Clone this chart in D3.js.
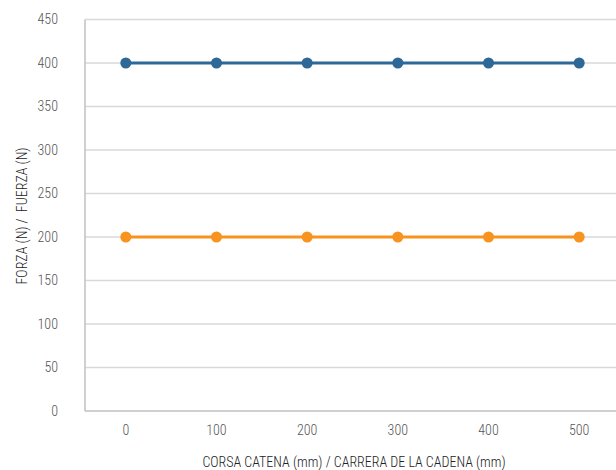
<!DOCTYPE html>
<html><head><meta charset="utf-8">
<script src="https://cdn.jsdelivr.net/npm/d3@7"></script>
<style>body{margin:0;background:#fff}svg{display:block}text{font-family:"Liberation Sans Narrow","Roboto Condensed",Roboto,sans-serif;font-weight:300}</style>
</head><body><svg id="c" width="616" height="470"></svg>
<script>
const categories = ["0","100","200","300","400","500"];
const seriesBlue = [400,400,400,400,400,400];
const seriesOrange = [200,200,200,200,200,200];
const yTicks = [0,50,100,150,200,250,300,350,400,450];

const svg = d3.select("#c");
const x = d3.scalePoint().domain(categories).range([85,620]).padding(0.45);
const y = d3.scaleLinear().domain([0,450]).range([411,19.5]);

svg.append("g").selectAll("line").data(yTicks.filter(d=>d>0)).join("line")
  .attr("x1",85).attr("x2",616).attr("y1",d=>y(d)).attr("y2",d=>y(d))
  .attr("stroke","#d9d9d9").attr("stroke-width",1.5);

svg.append("line").attr("x1",85).attr("x2",85).attr("y1",y(450)).attr("y2",y(0)).attr("stroke","#c0c0c0").attr("stroke-width",1.5);
svg.append("line").attr("x1",85).attr("x2",616).attr("y1",y(0)).attr("y2",y(0)).attr("stroke","#c0c0c0").attr("stroke-width",1.5);

svg.append("g").selectAll("text").data(yTicks).join("text")
  .attr("x",58).attr("y",d=>y(d)).attr("dy","0.35em").attr("text-anchor","end")
  .attr("font-size",14).attr("fill","#555").text(d=>d);

svg.append("g").selectAll("text").data(categories).join("text")
  .attr("x",d=>x(d)).attr("y",430).attr("dy","0.35em").attr("text-anchor","middle")
  .attr("font-size",14).attr("fill","#555").text(d=>d);

svg.append("text").attr("x",354).attr("y",462).attr("dy","0.35em").attr("text-anchor","middle")
  .attr("font-size",14).attr("fill","#222").text("CORSA CATENA (mm) / CARRERA DE LA CADENA (mm)");
svg.append("text").attr("transform","translate(22,216) rotate(-90)").attr("dy","0.35em").attr("text-anchor","middle")
  .attr("font-size",14).attr("fill","#222").style("white-space","pre").text("FORZA (N) /  FUERZA (N)");

const line = d3.line().x((d,i)=>x(categories[i])).y(d=>y(d));
[[seriesBlue,"#2d6897"],[seriesOrange,"#f7931e"]].forEach(([s,c])=>{
  svg.append("path").datum(s).attr("d",line).attr("fill","none").attr("stroke",c).attr("stroke-width",3);
  svg.append("g").selectAll("circle").data(s).join("circle")
    .attr("cx",(d,i)=>x(categories[i])).attr("cy",d=>y(d)).attr("r",5.5).attr("fill",c);
});
</script></body></html>
